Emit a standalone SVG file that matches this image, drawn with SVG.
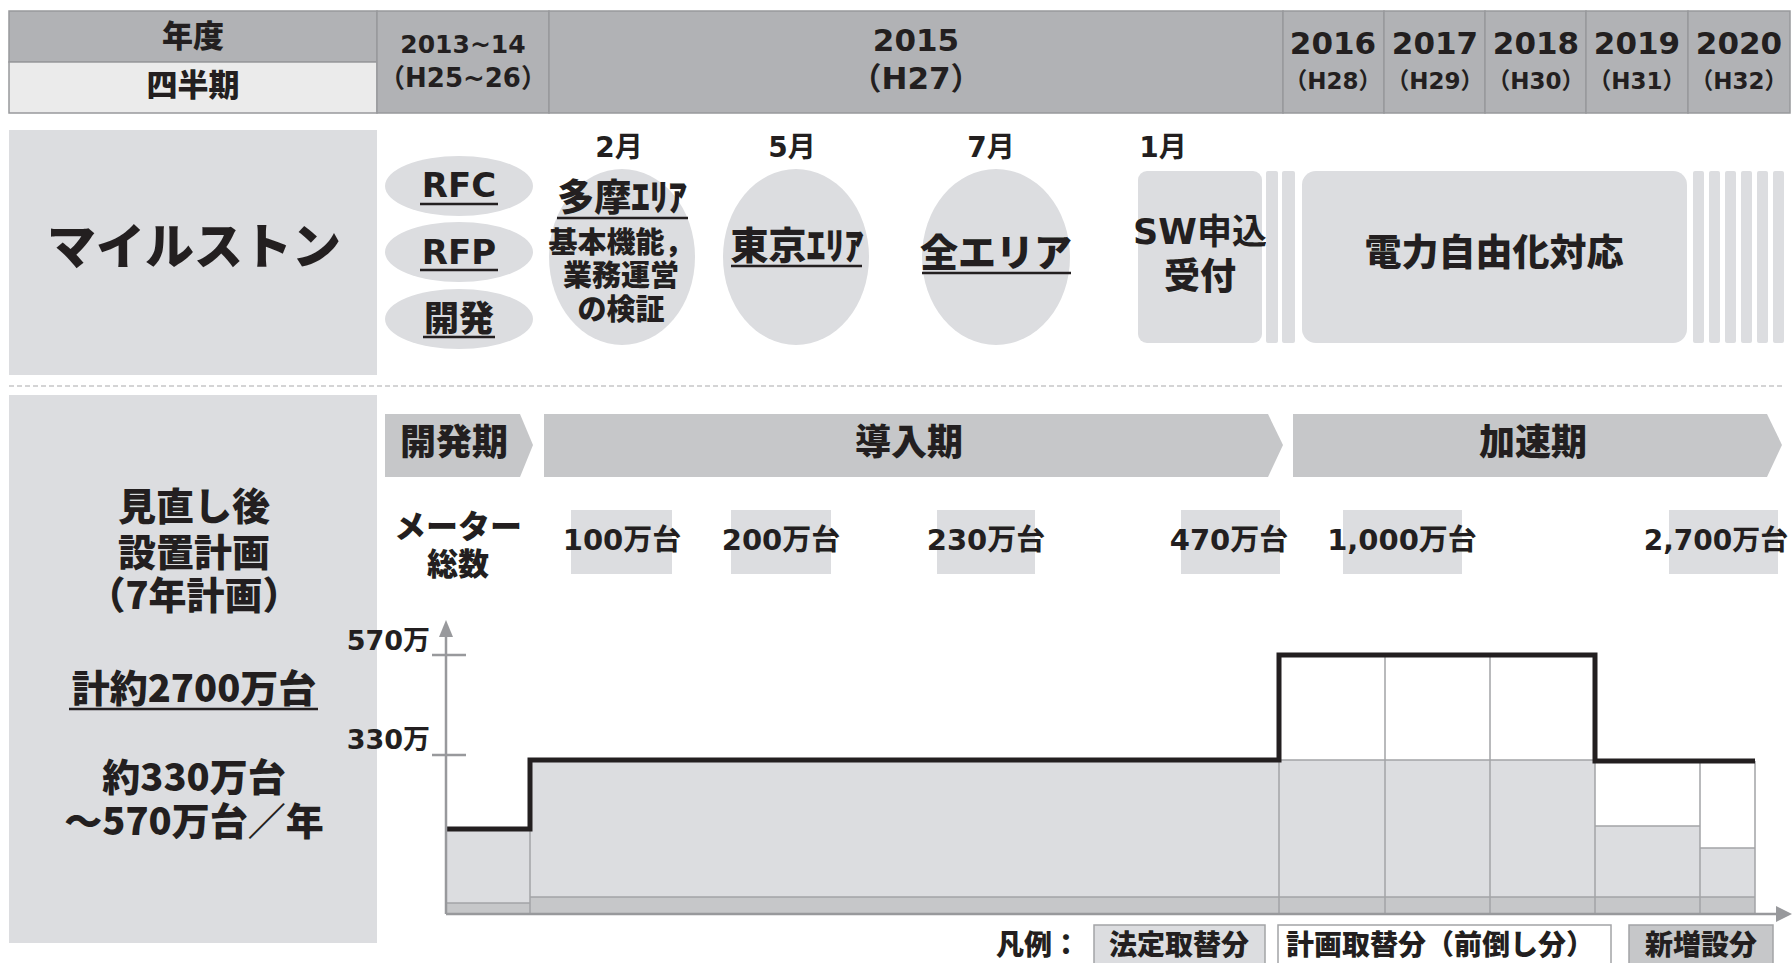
<svg xmlns="http://www.w3.org/2000/svg" width="1792" height="963" viewBox="0 0 1792 963">
<defs>
<style>
.t{font-family:"DejaVu Sans","Noto Sans CJK JP",sans-serif;font-weight:700;fill:#231f20;text-anchor:middle}
.j{font-family:"Noto Sans CJK JP",sans-serif;font-weight:900;fill:#231f20;text-anchor:middle}
.hd{fill:#b1b2b5;stroke:#98999c;stroke-width:1.5}
.lt{fill:#dcdde0}
.ph{fill:#c6c7c9}
.gl{stroke:#a3a4a6;stroke-width:1.5;fill:none}
.ul{stroke:#231f20;stroke-width:2.5}
</style>
</defs>
<rect width="1792" height="963" fill="#ffffff"/>

<g id="header">
<rect class="hd" x="9" y="11" width="368" height="51"/>
<rect x="9" y="62" width="368" height="51" fill="#ebebeb" stroke="#98999c" stroke-width="1.5"/>
<rect class="hd" x="377" y="11" width="172" height="102"/>
<rect class="hd" x="549" y="11" width="734" height="102"/>
<rect class="hd" x="1283" y="11" width="101" height="102"/>
<rect class="hd" x="1384" y="11" width="101" height="102"/>
<rect class="hd" x="1485" y="11" width="101" height="102"/>
<rect class="hd" x="1586" y="11" width="102" height="102"/>
<rect class="hd" x="1688" y="11" width="102" height="102"/>
<text class="j" x="193" y="47" font-size="31">年度</text>
<text class="j" x="193" y="96" font-size="31">四半期</text>
<text class="t" x="463" y="53" font-size="25">2013~14</text>
<text class="t" x="463" y="87" font-size="26">（H25~26）</text>
<text class="t" x="916" y="51" font-size="31">2015</text>
<text class="t" x="916" y="89" font-size="31">（H27）</text>
<text class="t" x="1333" y="54" font-size="31">2016</text>
<text class="t" x="1333" y="89" font-size="23">（H28）</text>
<text class="t" x="1435" y="54" font-size="31">2017</text>
<text class="t" x="1435" y="89" font-size="23">（H29）</text>
<text class="t" x="1536" y="54" font-size="31">2018</text>
<text class="t" x="1536" y="89" font-size="23">（H30）</text>
<text class="t" x="1637" y="54" font-size="31">2019</text>
<text class="t" x="1637" y="89" font-size="23">（H31）</text>
<text class="t" x="1739" y="54" font-size="31">2020</text>
<text class="t" x="1739" y="89" font-size="23">（H32）</text>
</g>

<g id="milestone-label">
<rect class="lt" x="9" y="130" width="368" height="245"/>
<text class="j" x="194" y="264" font-size="49">マイルストン</text>
</g>

<g id="ms-rfc">
<ellipse class="lt" cx="459" cy="186" rx="74" ry="30"/>
<text class="t" x="459" y="197" font-size="34">RFC</text>
<line class="ul" x1="420" y1="204" x2="498" y2="204"/>
</g>
<g id="ms-rfp">
<ellipse class="lt" cx="459" cy="252" rx="74" ry="30"/>
<text class="t" x="459" y="264" font-size="34">RFP</text>
<line class="ul" x1="420" y1="270" x2="498" y2="270"/>
</g>
<g id="ms-dev">
<ellipse class="lt" cx="459" cy="319" rx="74" ry="30"/>
<text class="j" x="459" y="331" font-size="35">開発</text>
<line class="ul" x1="423" y1="337" x2="495" y2="337"/>
</g>

<g id="ms-tama">
<text class="t" x="619" y="157" font-size="28">2月</text>
<ellipse class="lt" cx="622" cy="257" rx="73" ry="88"/>
<text class="j" x="622" y="211" font-size="37">多摩ｴﾘｱ</text>
<line class="ul" x1="557" y1="218" x2="688" y2="218"/>
<text class="j" x="621" y="253" font-size="29">基本機能，</text>
<text class="j" x="621" y="286" font-size="29">業務運営</text>
<text class="j" x="621" y="320" font-size="29">の検証</text>
</g>
<g id="ms-tokyo">
<text class="t" x="792" y="157" font-size="28">5月</text>
<ellipse class="lt" cx="796" cy="257" rx="73" ry="88"/>
<text class="j" x="797" y="259" font-size="38">東京ｴﾘｱ</text>
<line class="ul" x1="731" y1="266" x2="862" y2="266"/>
</g>
<g id="ms-all">
<text class="t" x="991" y="157" font-size="28">7月</text>
<ellipse class="lt" cx="996" cy="257" rx="74" ry="88"/>
<text class="j" x="996" y="266" font-size="38">全エリア</text>
<line class="ul" x1="922" y1="273" x2="1071" y2="273"/>
</g>
<g id="ms-sw">
<text class="t" x="1163" y="157" font-size="28">1月</text>
<rect class="lt" x="1138" y="171" width="124" height="172" rx="9"/>
<text class="t" x="1200" y="244" font-size="35">SW申込</text>
<text class="j" x="1200" y="289" font-size="36">受付</text>
<rect class="lt" x="1266" y="171" width="12" height="172" rx="2"/>
<rect class="lt" x="1282" y="171" width="13" height="172" rx="2"/>
</g>
<g id="ms-lib">
<rect class="lt" x="1302" y="171" width="385" height="172" rx="14"/>
<text class="j" x="1494" y="266" font-size="37">電力自由化対応</text>
<rect class="lt" x="1693" y="171" width="11" height="172" rx="2"/>
<rect class="lt" x="1709" y="171" width="11" height="172" rx="2"/>
<rect class="lt" x="1725" y="171" width="11" height="172" rx="2"/>
<rect class="lt" x="1741" y="171" width="11" height="172" rx="2"/>
<rect class="lt" x="1757" y="171" width="11" height="172" rx="2"/>
<rect class="lt" x="1773" y="171" width="11" height="172" rx="2"/>
</g>

<line x1="9" y1="386" x2="1785" y2="386" stroke="#a9aaac" stroke-width="1.2" stroke-dasharray="5 3"/>

<g id="plan-label">
<rect class="lt" x="9" y="395" width="368" height="548"/>
<text class="j" x="194" y="520" font-size="38">見直し後</text>
<text class="j" x="194" y="566" font-size="38">設置計画</text>
<text class="j" x="194" y="609" font-size="38">（7年計画）</text>
<text class="j" x="194" y="702" font-size="38">計約2700万台</text>
<line class="ul" x1="69" y1="709" x2="318" y2="709"/>
<text class="j" x="194" y="791" font-size="38">約330万台</text>
<text class="j" x="194" y="835" font-size="38">～570万台／年</text>
</g>

<g id="phase-dev">
<polygon class="ph" points="385,414 520,414 533,445 520,477 385,477"/>
<text class="j" x="454" y="455" font-size="36">開発期</text>
</g>
<g id="phase-intro">
<polygon class="ph" points="544,414 1268,414 1283,445 1268,477 544,477"/>
<text class="j" x="909" y="455" font-size="36">導入期</text>
</g>
<g id="phase-accel">
<polygon class="ph" points="1293,414 1767,414 1782,445 1767,477 1293,477"/>
<text class="j" x="1533" y="455" font-size="36">加速期</text>
</g>

<g id="meter-label">
<text class="j" x="458" y="538" font-size="32">メーター</text>
<text class="j" x="458" y="575" font-size="31">総数</text>
</g>
<g id="m100"><rect class="lt" x="571" y="510" width="101" height="64"/><text class="t" x="622" y="550" font-size="29">100万台</text></g>
<g id="m200"><rect class="lt" x="731" y="510" width="100" height="64"/><text class="t" x="781" y="550" font-size="29">200万台</text></g>
<g id="m230"><rect class="lt" x="937" y="510" width="98" height="64"/><text class="t" x="986" y="550" font-size="29">230万台</text></g>
<g id="m470"><rect class="lt" x="1181" y="510" width="99" height="64"/><text class="t" x="1229" y="550" font-size="29">470万台</text></g>
<g id="m1000"><rect class="lt" x="1343" y="510" width="119" height="64"/><text class="t" x="1402" y="550" font-size="29">1,000万台</text></g>
<g id="m2700"><rect class="lt" x="1669" y="510" width="109" height="64"/><text class="t" x="1716" y="550" font-size="28">2,700万台</text></g>

<g id="chart">
<rect class="lt" x="446" y="829" width="84" height="85"/>
<rect class="lt" x="530" y="760" width="749" height="154"/>
<rect x="1279" y="655" width="316" height="105" fill="#ffffff"/>
<rect class="lt" x="1279" y="760" width="316" height="154"/>
<rect x="1595" y="761" width="160" height="153" fill="#ffffff"/>
<rect class="lt" x="1595" y="826" width="105" height="88"/>
<rect class="lt" x="1700" y="848" width="55" height="66"/>
<rect class="ph" x="446" y="903" width="84" height="11"/>
<rect class="ph" x="530" y="897" width="1225" height="17"/>
<path class="gl" d="M446,903H530M530,897H1755M530,760V914M1279,655V914M1385,655V914M1490,655V914M1279,760H1595M1595,761V914M1595,826H1700M1700,761V914M1700,848H1755M1755,761V914"/>
<polyline points="446,829 530,829 530,760 1279,760 1279,655 1595,655 1595,761 1755,761" fill="none" stroke="#231f20" stroke-width="5"/>
</g>

<g id="axes">
<line x1="446" y1="914" x2="446" y2="632" stroke="#98999c" stroke-width="2.5"/>
<polygon points="446,620 439,637 453,637" fill="#98999c"/>
<line x1="432" y1="655" x2="466" y2="655" stroke="#98999c" stroke-width="2.5"/>
<line x1="432" y1="755" x2="466" y2="755" stroke="#98999c" stroke-width="2.5"/>
<line x1="446" y1="914" x2="1778" y2="914" stroke="#98999c" stroke-width="2.5"/>
<polygon points="1792,914 1776,906 1776,922" fill="#98999c"/>
<text class="t" x="430" y="650" font-size="27" style="text-anchor:end">570万</text>
<text class="t" x="430" y="749" font-size="27" style="text-anchor:end">330万</text>
</g>

<g id="legend">
<text class="j" x="1080" y="955" font-size="28" style="text-anchor:end">凡例：</text>
<rect x="1094" y="925" width="171" height="45" fill="#dcdde0" stroke="#a3a4a6" stroke-width="1.5"/>
<text class="j" x="1179" y="955" font-size="28">法定取替分</text>
<rect x="1278" y="925" width="333" height="45" fill="#ffffff" stroke="#a3a4a6" stroke-width="1.5"/>
<text class="j" x="1440" y="955" font-size="28">計画取替分（前倒し分）</text>
<rect x="1629" y="925" width="144" height="45" fill="#c6c7c9" stroke="#a3a4a6" stroke-width="1.5"/>
<text class="j" x="1701" y="955" font-size="28">新増設分</text>
</g>
</svg>
